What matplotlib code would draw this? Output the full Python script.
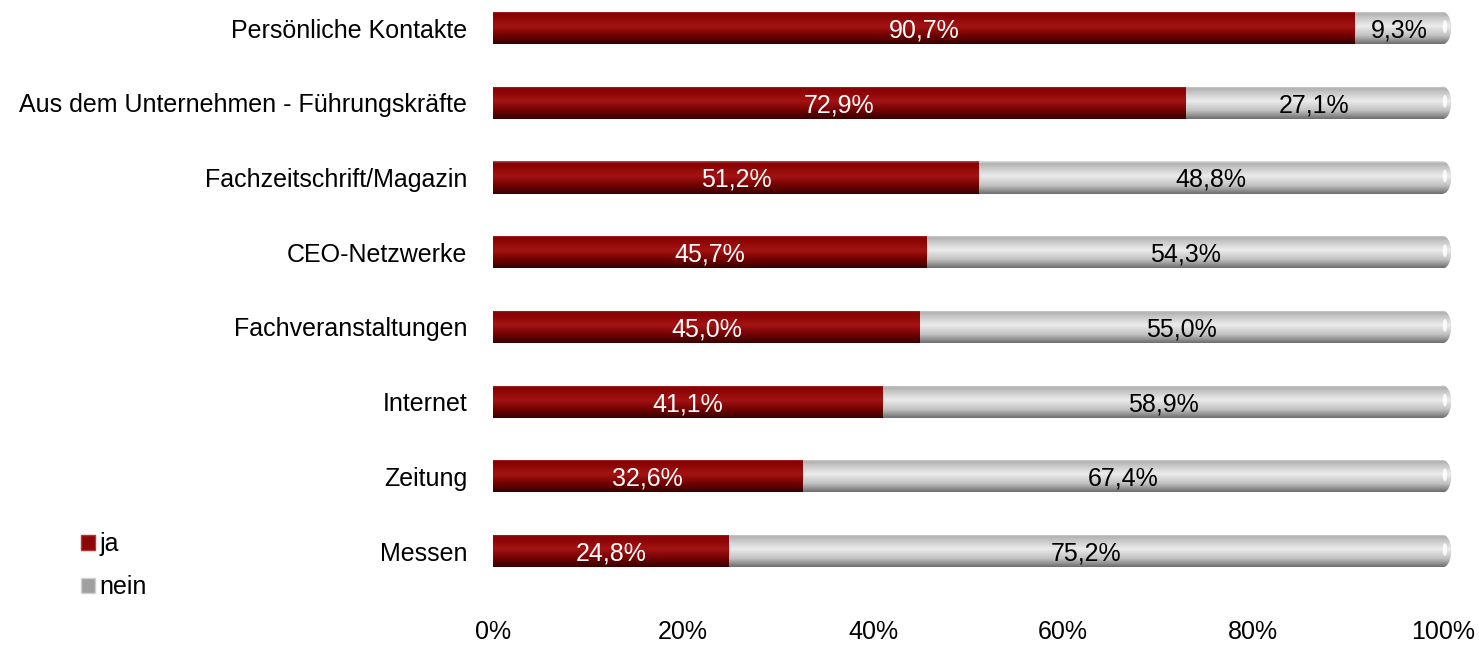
import numpy as np
import matplotlib
matplotlib.use("Agg")
import matplotlib.pyplot as plt
from matplotlib.colors import LinearSegmentedColormap
from matplotlib.patches import Ellipse, Patch

categories = ["Persönliche Kontakte", "Aus dem Unternehmen - Führungskräfte",
              "Fachzeitschrift/Magazin", "CEO-Netzwerke", "Fachveranstaltungen",
              "Internet", "Zeitung", "Messen"]
ja = [90.7, 72.9, 51.2, 45.7, 45.0, 41.1, 32.6, 24.8]
nein = [9.3, 27.1, 48.8, 54.3, 55.0, 58.9, 67.4, 75.2]
xticks = [0, 20, 40, 60, 80, 100]
xtick_labels = ["0%", "20%", "40%", "60%", "80%", "100%"]

plt.rcParams["font.family"] = ["Liberation Sans", "DejaVu Sans"]

fig = plt.figure(figsize=(14.79, 6.45), dpi=100)
# x from 0 to 101 so the rounded bar caps past 100% stay visible
ax = fig.add_axes([0.3333, 0.051, 0.6488, 0.949])

bar_h = 0.43
y = np.arange(len(categories))

# vertical shading profiles (top -> bottom) for a cylinder look
red_cmap = LinearSegmentedColormap.from_list(
    "red_cyl", [(0.0, "#b05050"), (0.06, "#880000"), (0.2, "#8e0606"),
                (0.45, "#a41414"), (0.7, "#7a0303"), (1.0, "#380000")])
gray_cmap = LinearSegmentedColormap.from_list(
    "gray_cyl", [(0.0, "#e4e4e4"), (0.06, "#b0b0b0"), (0.2, "#c8c8c8"),
                 (0.45, "#ececec"), (0.75, "#c0c0c0"), (1.0, "#6e6e6e")])
grad = np.linspace(0, 1, 64).reshape(-1, 1)


def shade(patch, cmap):
    b = patch.get_bbox()
    im = ax.imshow(grad, cmap=cmap, aspect="auto", interpolation="bicubic",
                   extent=[b.x0, b.x1, b.y1, b.y0], zorder=2)
    im.set_clip_path(patch)


bars_ja = ax.barh(y, ja, height=bar_h, color="#9a1010", zorder=1)
bars_nein = ax.barh(y, nein, left=ja, height=bar_h, color="#d0d0d0", zorder=1)

for p in bars_ja:
    shade(p, red_cmap)
for p in bars_nein:
    shade(p, gray_cmap)

# rounded caps at the right end of each bar
for yi, j, n in zip(y, ja, nein):
    end = j + n
    cap = Ellipse((end, yi), width=1.7, height=bar_h, facecolor="#d0d0d0",
                  edgecolor="none", zorder=1)
    ax.add_patch(cap)
    ax.imshow(grad, cmap=gray_cmap, aspect="auto", interpolation="bicubic",
              extent=[end - 0.85, end + 0.85, yi + bar_h / 2, yi - bar_h / 2],
              zorder=2).set_clip_path(cap)
    hl = Ellipse((end + 0.2, yi - 0.02), width=0.45, height=bar_h * 0.4,
                 facecolor="white", alpha=0.85, edgecolor="none", zorder=3)
    ax.add_patch(hl)

# value labels
for yi, j, n in zip(y, ja, nein):
    ax.text(j / 2, yi, f"{j:.1f}%".replace(".", ","), color="white",
            ha="center", va="center_baseline", fontsize=18, zorder=4)
    ax.text(j + n / 2, yi, f"{n:.1f}%".replace(".", ","), color="black",
            ha="center", va="center_baseline", fontsize=18, zorder=4)

ax.set_xlim(0, 101)
ax.set_ylim(7.817, -0.375)
ax.set_yticks(y)
ax.set_yticklabels(categories, fontsize=18, va="center_baseline")
ax.set_xticks(xticks)
ax.set_xticklabels(xtick_labels, fontsize=18)
ax.tick_params(axis="both", length=0)
ax.tick_params(axis="y", pad=18.5)
ax.tick_params(axis="x", pad=6)
for s in ax.spines.values():
    s.set_visible(False)
ax.set_facecolor("none")

handles = [Patch(facecolor="#8a0808", edgecolor="#c03030", label="ja"),
           Patch(facecolor="#a0a0a0", edgecolor="#d0d0d0", label="nein")]
fig.legend(handles=handles, loc="upper left", bbox_to_anchor=(0.048, 0.19),
           frameon=False, fontsize=18, handlelength=0.55, handleheight=0.55,
           handletextpad=0.2, labelspacing=0.75, borderaxespad=0)

fig.savefig("out.png", dpi=100)
